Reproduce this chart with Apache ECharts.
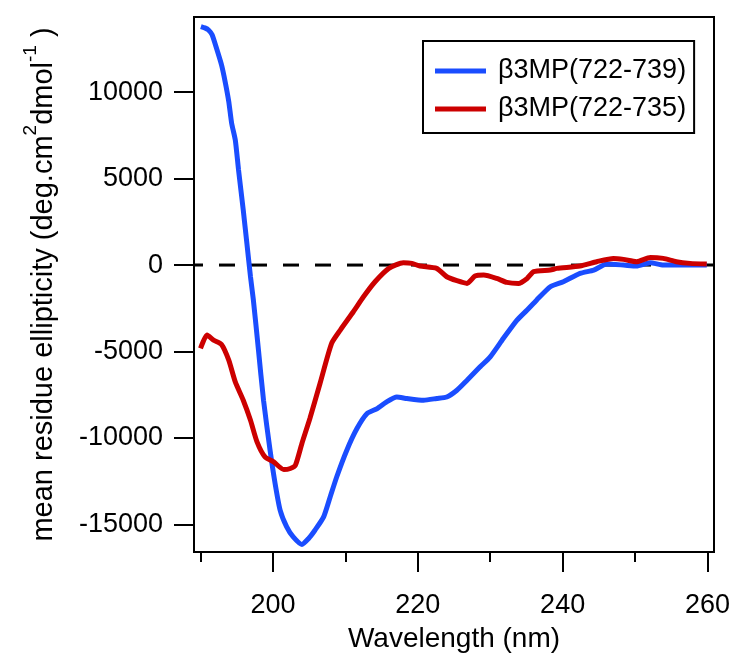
<!DOCTYPE html>
<html><head><meta charset="utf-8">
<script src="https://cdn.jsdelivr.net/npm/echarts@6/dist/echarts.min.js"></script>
<style>html,body{margin:0;padding:0;background:#fff}#c{width:731px;height:653px}</style>
</head><body><div id="c"></div>
<script>
const xTicks = [200, 220, 240, 260];
const xMinorTicks = [190, 210, 230, 250];
const yTicks = [-15000, -10000, -5000, 0, 5000, 10000];
const seriesNames = ['β3MP(722-739)', 'β3MP(722-735)'];

const wlBlue = [190.05,190.6,191.1,191.6,192.2,192.9,193.4,193.9,194.3,194.8,195.25,195.9,196.4,196.9,197.3,198.0,198.7,199.6,200.3,201.0,201.9,202.8,204.0,204.9,205.8,207.0,207.9,208.8,210.2,211.6,213.0,214.4,215.7,217.1,218.5,220.8,222.6,224.0,225.4,226.8,228.6,230.0,231.8,233.7,235.1,236.4,238.3,240.1,242.4,244.3,246.1,248.4,250.2,252.1,253.9,256.7,259.9];
const mreBlue = [13800,13720,13600,13320,12550,11580,10610,9460,8200,7240,5500,3185,1256,-677,-2030,-4920,-7820,-10710,-12640,-14190,-15150,-15730,-16160,-15830,-15340,-14570,-13420,-12260,-10710,-9460,-8590,-8300,-7910,-7630,-7720,-7820,-7720,-7630,-7240,-6660,-5890,-5310,-4250,-3185,-2600,-2030,-1256,-967,-483,-290,58,0,-58,135,0,0,0];

const wlRed = [190.0,190.9,191.8,192.9,193.9,194.8,195.9,196.9,197.8,198.9,200.1,201.5,202.4,203.1,204.0,205.1,206.5,208.1,209.3,211.1,212.5,214.1,216.0,218.0,219.2,220.3,222.6,224.0,225.4,226.8,227.9,229.1,230.9,232.3,233.9,235.1,236.0,238.3,239.2,242.4,244.7,247.0,248.4,250.2,252.1,253.9,255.7,257.6,259.9];
const mreRed = [-4820,-4050,-4340,-4590,-5500,-6760,-7820,-8980,-10230,-11100,-11390,-11830,-11770,-11580,-10320,-8880,-6850,-4530,-3760,-2700,-1835,-967,-193,135,97,-58,-193,-677,-908,-1062,-637,-579,-772,-1004,-1062,-772,-386,-290,-193,-58,193,386,328,193,444,386,193,97,58];

const X_MIN = 189.1, X_MAX = 260.9, Y_MIN = -16600, Y_MAX = 14350;
const FONT = 'Liberation Sans, Arial, sans-serif';
const zip = (a, b) => a.map((v, i) => [v, b[i]]);

const chart = echarts.init(document.getElementById('c'), null, {renderer: 'canvas'});
chart.setOption({
  animation: false,
  backgroundColor: '#fff',
  grid: {left: 194, right: 17, top: 17, bottom: 101, show: true, borderColor: '#000', borderWidth: 2,
    backgroundColor: 'transparent', containLabel: false, outerBoundsMode: 'none'},
  legend: {
    data: seriesNames,
    orient: 'vertical', left: 423, top: 41,
    borderColor: '#000', borderWidth: 2, backgroundColor: '#fff',
    padding: [15, 8, 9, 12], itemGap: 8,
    icon: 'rect', itemWidth: 51, itemHeight: 5,
    textStyle: {fontSize: 27, lineHeight: 30, color: '#000', fontFamily: FONT, padding: [0, 0, 0, 7]}
  },
  xAxis: [{
    type: 'value', min: X_MIN, max: X_MAX, position: 'bottom',
    name: 'Wavelength (nm)', nameLocation: 'middle', nameGap: 73,
    nameTextStyle: {fontSize: 28, color: '#000', fontFamily: FONT},
    axisLine: {show: true, onZero: false, lineStyle: {color: '#000', width: 2}},
    axisTick: {show: true, customValues: xTicks, length: 20, lineStyle: {color: '#000', width: 2}},
    axisLabel: {customValues: xTicks, margin: 40, fontSize: 27, color: '#000', fontFamily: FONT,
      formatter: v => String(v)},
    splitLine: {show: false}
  }, {
    type: 'value', min: X_MIN, max: X_MAX, position: 'bottom', offset: 0,
    axisLine: {show: false, onZero: false},
    axisTick: {show: true, customValues: xMinorTicks, length: 10, lineStyle: {color: '#000', width: 2}},
    axisLabel: {show: false},
    splitLine: {show: false}
  }],
  yAxis: {
    type: 'value', min: Y_MIN, max: Y_MAX,
    name: '{t|mean residue ellipticity (deg.cm}{s|2}{t|dmol}{s|-1}{t| )}',
    nameLocation: 'middle', nameRotate: 90, nameGap: 136,
    nameTextStyle: {
      color: '#000', fontFamily: FONT,
      rich: {
        t: {fontSize: 29, color: '#000', fontFamily: FONT, lineHeight: 37, verticalAlign: 'bottom'},
        s: {fontSize: 19, color: '#000', fontFamily: FONT, lineHeight: 37, verticalAlign: 'top'}
      }
    },
    axisLine: {show: true, onZero: false, lineStyle: {color: '#000', width: 2}},
    axisTick: {show: true, customValues: yTicks, length: 20, lineStyle: {color: '#000', width: 2}},
    axisLabel: {customValues: yTicks, margin: 31, fontSize: 27, color: '#000', fontFamily: FONT,
      formatter: v => String(v)},
    splitLine: {show: false}
  },
  series: [
    {
      name: 'zero', type: 'line', symbol: 'none', z: 1, silent: true,
      data: [[X_MIN, 0], [X_MAX, 0]],
      lineStyle: {color: '#000', width: 3, type: [16, 16], dashOffset: 7}
    },
    {
      name: seriesNames[0], type: 'line', symbol: 'none', z: 2,
      data: zip(wlBlue, mreBlue), smooth: 0.2,
      itemStyle: {color: '#1a4dff'},
      lineStyle: {color: '#1a4dff', width: 5}
    },
    {
      name: seriesNames[1], type: 'line', symbol: 'none', z: 3,
      data: zip(wlRed, mreRed), smooth: 0.2,
      itemStyle: {color: '#cc0000'},
      lineStyle: {color: '#cc0000', width: 5}
    }
  ]
});
</script>
</body></html>
